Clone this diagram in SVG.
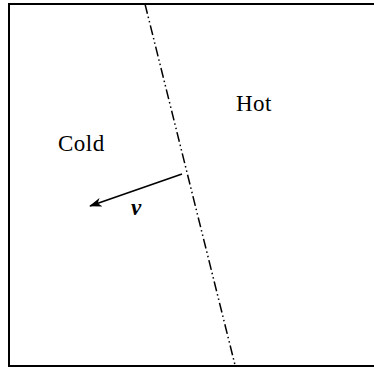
<svg xmlns="http://www.w3.org/2000/svg" width="374" height="370" viewBox="0 0 374 370">
<style>
.lbl{font-family:"Liberation Serif","Times New Roman",serif;font-size:23px;fill:#000;letter-spacing:0.5px}
.frame{fill:none;stroke:#000;stroke-width:2}
.front{stroke:#000;stroke-width:1.5;stroke-dasharray:10,3,1.5,3,1.5,3;fill:none}
.vec{stroke:#000;stroke-width:1.6;fill:none}
</style>
<defs>
<marker id="ah" viewBox="0 0 14 10" refX="13" refY="5" markerWidth="14" markerHeight="9" markerUnits="userSpaceOnUse" orient="auto">
<path d="M0,0 L14,5 L0,10 L4,5 Z" fill="#000"/>
</marker>
</defs>
<rect class="frame" x="9" y="4" width="380" height="362"/>
<g id="front"><line class="front" x1="145" y1="4" x2="235" y2="365"/></g>
<g id="hot"><text class="lbl" x="236" y="111">Hot</text></g>
<g id="cold"><text class="lbl" x="58" y="151">Cold</text></g>
<g id="connectors">
<line class="vec" x1="182" y1="174" x2="90" y2="206" marker-end="url(#ah)"/>
</g>
<g id="v"><text class="lbl" x="131" y="215" font-style="italic" font-weight="bold">v</text></g>
</svg>
